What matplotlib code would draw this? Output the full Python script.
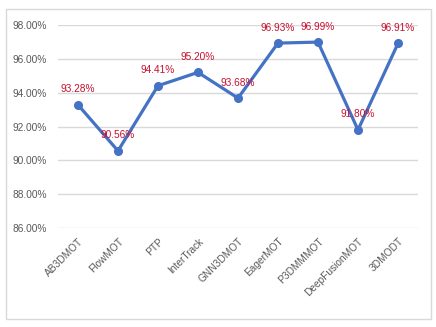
import matplotlib
matplotlib.use("Agg")
import matplotlib.pyplot as plt
from matplotlib.patches import Rectangle
from matplotlib.ticker import FuncFormatter

categories = ["AB3DMOT", "FlowMOT", "PTP", "InterTrack", "GNN3DMOT",
              "EagerMOT", "P3DMMMOT", "DeepFusionMOT", "3DMODT"]
values = [93.28, 90.56, 94.41, 95.20, 93.68, 96.93, 96.99, 91.80, 96.91]
yticks = [86, 88, 90, 92, 94, 96, 98]

plt.rcParams['font.family'] = ['Liberation Sans', 'DejaVu Sans']

fig = plt.figure(figsize=(4.36, 3.27), dpi=100)
fig.patches.append(Rectangle((6/436, 1-319/327), (431-6)/436, (319-9)/327,
                             transform=fig.transFigure, fill=False,
                             edgecolor="#D9D9D9", linewidth=1.0))
ax = fig.add_axes([58/436, 1-228/327, (418-58)/436, (228-25)/327])

x = list(range(len(categories)))
ax.plot(x, values, color="#4472C4", linewidth=2.3, marker="o", markersize=5.5,
        zorder=3)
for xi, v in zip(x, values):
    ax.annotate(f"{v:.2f}%", (xi, v), xytext=(0, 7.5), textcoords="offset points",
                ha="center", va="bottom", color="#C8102E", fontsize=7.3)

ax.set_xlim(-0.5, len(categories) - 0.5)
ax.set_ylim(86, 98)
ax.set_yticks(yticks)
ax.yaxis.set_major_formatter(FuncFormatter(lambda v, p: f"{v:.2f}%"))
ax.grid(axis="y", color="#D9D9D9", linewidth=1.0)
ax.set_axisbelow(True)
for s in ax.spines.values():
    s.set_visible(False)
ax.tick_params(axis="both", length=0, labelsize=7.3, colors="#595959")
ax.tick_params(axis="y", pad=8)
ax.set_xticks(x)
ax.set_xticklabels(categories, rotation=45, ha="right", rotation_mode="anchor")
ax.tick_params(axis="x", pad=6)

fig.savefig("out.png", dpi=100)
